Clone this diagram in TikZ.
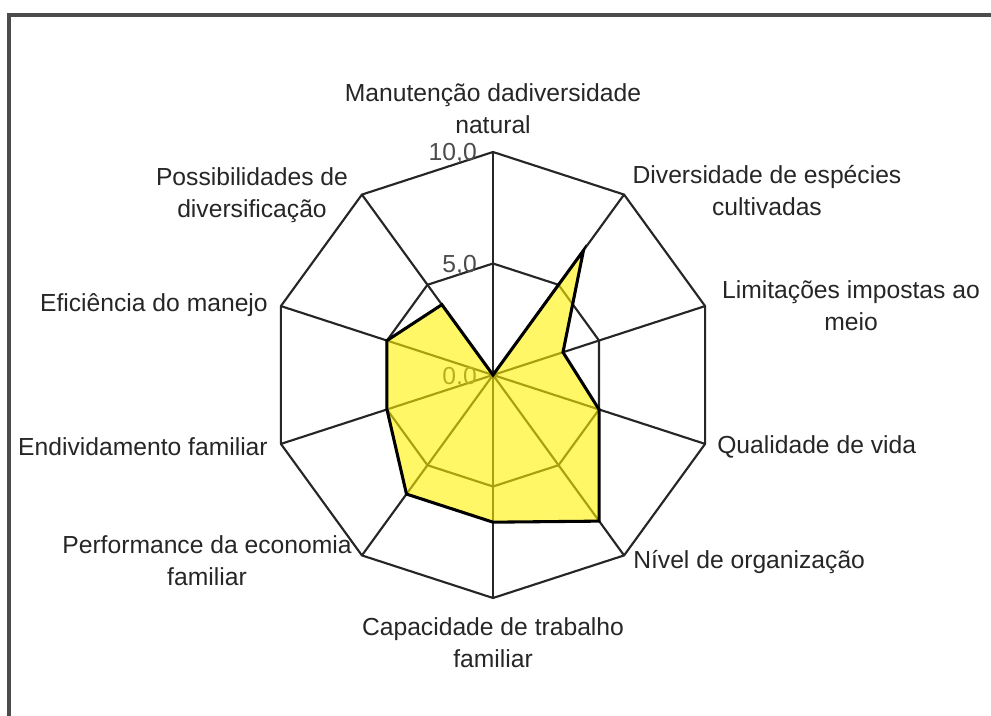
\documentclass[tikz,border=0pt]{standalone}
\usepackage{fontspec}
\setmainfont{Liberation Sans}
\tikzset{
  grid line/.style={draw=black!85, line width=1.6pt},
  axis label/.style={font=\fontsize{18.5}{24}\selectfont, text=black!85, align=center, inner sep=0pt},
  scale label/.style={font=\fontsize{18.5}{24}\selectfont, text=black!70, anchor=east, inner sep=0pt},
  data area/.style={fill=yellow, fill opacity=0.6, draw=black, line width=2.3pt, line join=miter}
}

\begin{document}
\begin{tikzpicture}[x=0.75pt, y=0.75pt]
  \useasboundingbox (-493,-341) rectangle (498,375);
  % frame
  \draw[draw=black!70, line width=2.4pt] (-484,-341) -- (-484,360) -- (498,360);
  % grid points
  \coordinate (c) at (0,0);
  \foreach \i in {0,...,9} {
    \coordinate (o\i) at ({90-36*\i}:223);
    \coordinate (m\i) at ({90-36*\i}:111.5);
  }
  % data points
  \foreach \i/\v in {0/0,1/6.9,2/3.3,3/5.0,4/8.1,5/6.6,6/6.6,7/5.0,8/5.0,9/3.9}
    \coordinate (d\i) at ({90-36*\i}:{22.3*\v});
  % rings and spokes
  \draw[grid line] (o0) \foreach \i in {1,...,9} { -- (o\i) } -- cycle;
  \draw[grid line] (m0) \foreach \i in {1,...,9} { -- (m\i) } -- cycle;
  \foreach \i in {0,...,9}
    \draw[grid line] (c) -- (o\i);
  % scale
  \node[scale label] (s10) at (-16,222) {10,0};
  \node[scale label] (s5) at (-16,110) {5,0};
  \node[scale label] (s0) at (-16,-2) {0,0};
  % values
  \draw[data area] (d0) \foreach \i in {1,...,9} { -- (d\i) } -- cycle;
  % axis labels
  \node[axis label] (lab0) at (0,266) {Manutenção dadiversidade\\natural};
  \node[axis label] (lab1) at (274,184) {Diversidade de espécies\\cultivadas};
  \node[axis label] (lab2) at (358,69) {Limitações impostas ao\\meio};
  \node[axis label, anchor=west] (lab3) at (224,-72) {Qualidade de vida};
  \node[axis label, anchor=west] (lab4) at (140,-187) {Nível de organização};
  \node[axis label] (lab5) at (0,-268) {Capacidade de trabalho\\familiar};
  \node[axis label] (lab6) at (-286,-186) {Performance da economia\\familiar};
  \node[axis label, anchor=east] (lab7) at (-225,-72) {Endividamento familiar};
  \node[axis label, anchor=east] (lab8) at (-225,70) {Eficiência do manejo};
  \node[axis label] (lab9) at (-241,180) {Possibilidades de\\diversificação};
\end{tikzpicture}
\end{document}
